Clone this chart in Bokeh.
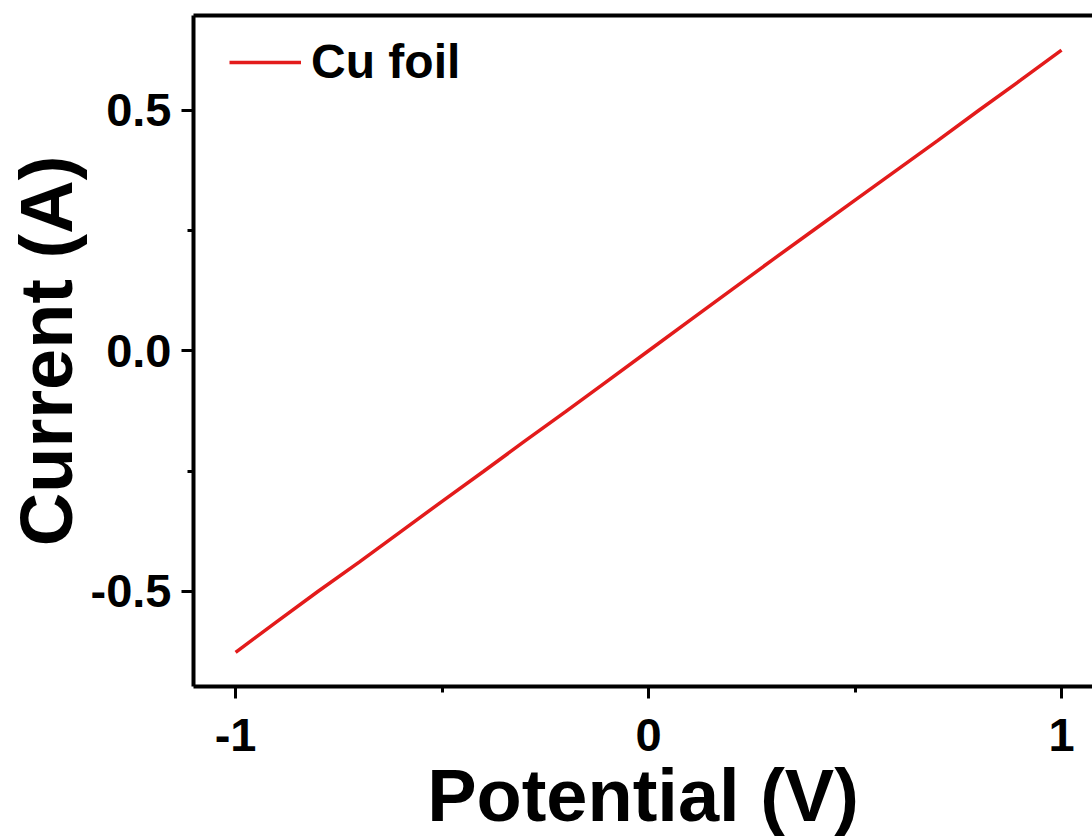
import numpy as np
from bokeh.plotting import figure
from bokeh.models import (LinearAxis, FixedTicker, Range1d, Legend, LegendItem,
                          CustomJSTickFormatter)
from bokeh.embed import file_html
from bokeh.resources import INLINE

# ---- data ----
potential = [-1.0, -0.9, -0.8, -0.7, -0.6, -0.5, -0.4, -0.3, -0.2, -0.1, 0.0,
             0.1, 0.2, 0.3, 0.4, 0.5, 0.6, 0.7, 0.8, 0.9, 1.0]
current = [-0.627, -0.563, -0.500, -0.439, -0.376, -0.313, -0.251, -0.188, -0.126, -0.063, 0.000,
           0.063, 0.126, 0.189, 0.251, 0.313, 0.375, 0.437, 0.500, 0.562, 0.625]
series_name = "Cu foil"
x_ticks = [-1, 0, 1]
x_minor = [-0.5, 0.5]
y_ticks = [-0.5, 0.0, 0.5]
y_minor = [-0.25, 0.25]
x_title = "Potential (V)"
y_title = "Current (A)"

FONT = "Liberation Sans"
RED = "#e31b1b"

p = figure(width=1092, height=839, output_backend="svg", toolbar_location=None,
           x_range=Range1d(-1.102, 1.075), y_range=Range1d(-0.698, 0.697),
           x_axis_type=None, y_axis_type=None,
           min_border_left=193, min_border_right=0, min_border_top=15, min_border_bottom=149)
p.grid.visible = False
p.outline_line_color = None
p.background_fill_color = "white"
p.border_fill_color = "white"

def style_axis(ax):
    ax.axis_line_width = 4
    ax.axis_line_color = "black"
    ax.major_tick_line_width = 3
    ax.minor_tick_line_width = 3
    ax.major_tick_in = 0
    ax.major_tick_out = 12
    ax.minor_tick_in = 0
    ax.minor_tick_out = 6
    ax.major_label_text_font = FONT
    ax.major_label_text_font_style = "bold"
    ax.major_label_text_font_size = "47px"
    ax.major_label_text_color = "black"
    ax.axis_label_text_font = FONT
    ax.axis_label_text_font_style = "bold"
    ax.axis_label_text_font_size = "74px"
    ax.axis_label_text_color = "black"

xa = LinearAxis(ticker=FixedTicker(ticks=x_ticks, minor_ticks=x_minor), axis_label=x_title)
style_axis(xa)
xa.major_label_standoff = 20
xa.axis_label_standoff = 0
xa.formatter = CustomJSTickFormatter(code="return tick.toFixed(0);")
p.add_layout(xa, "below")

ya = LinearAxis(ticker=FixedTicker(ticks=y_ticks, minor_ticks=y_minor), axis_label=y_title)
style_axis(ya)
ya.major_label_standoff = 10
ya.axis_label_standoff = 0
ya.formatter = CustomJSTickFormatter(code="return tick.toFixed(1);")
p.add_layout(ya, "left")

ta = LinearAxis(ticker=FixedTicker(ticks=[]))
ta.axis_line_width = 4
ta.major_tick_out = 0
ta.minor_tick_out = 0
ta.major_label_text_font_size = "0px"
ta.major_label_standoff = 0
p.add_layout(ta, "above")

r = p.line(potential, current, line_color=RED, line_width=3.5)

legend = Legend(items=[LegendItem(label=series_name, renderers=[r])],
                location=(36, 597), padding=0, margin=0, spacing=0,
                glyph_width=72, glyph_height=30, label_standoff=10,
                label_text_font=FONT, label_text_font_style="bold",
                label_text_font_size="48px", label_text_color="black",
                border_line_color=None, background_fill_alpha=0)
p.add_layout(legend)

open("out.html", "w").write(file_html(p, INLINE))
